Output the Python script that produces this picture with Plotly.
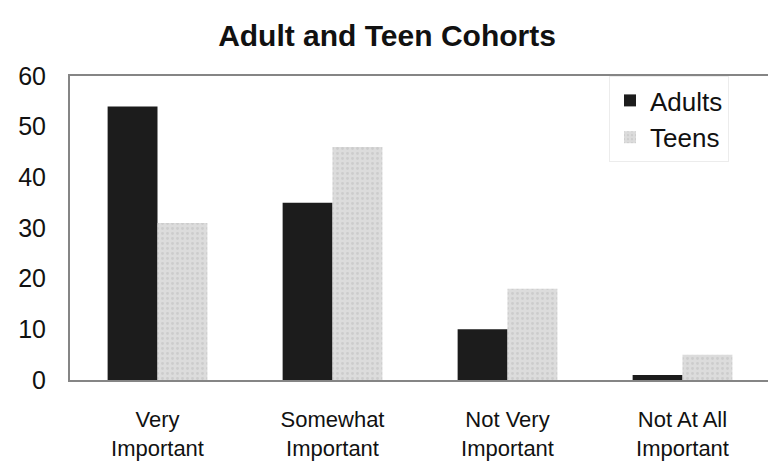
import plotly.graph_objects as go

categories = ["Very<br>Important", "Somewhat<br>Important", "Not Very<br>Important", "Not At All<br>Important"]
adults = [54, 35, 10, 1]
teens = [31, 46, 18, 5]
y_ticks = [0, 10, 20, 30, 40, 50, 60]

fig = go.Figure()
fig.add_trace(go.Bar(x=categories, y=adults, name="Adults",
                     marker=dict(color="#1c1c1c", line=dict(width=0))))
fig.add_trace(go.Bar(x=categories, y=teens, name="Teens",
                     marker=dict(color="#d8d8d8", line=dict(width=0),
                                 pattern=dict(shape=".", fgcolor="#bcbcbc", bgcolor="#dcdcdc", size=5, solidity=0.25))))

fig.update_layout(
    width=768, height=465,
    margin=dict(l=62, r=6, t=68, b=93, autoexpand=False),
    paper_bgcolor="white", plot_bgcolor="white",
    barmode="group", bargap=0.43, bargroupgap=0,
    font=dict(family="Liberation Sans, Arial, sans-serif", color="#111111", size=22),
    title=dict(text="<b>Adult and Teen Cohorts</b>", x=0.4935, xanchor="center", y=0.94, yanchor="middle",
               font=dict(size=30, family="Liberation Sans, Arial, sans-serif", color="#111111")),
    legend=dict(x=0.77, y=1.0, xanchor="left", yanchor="top",
                bgcolor="white", bordercolor="#ececec", borderwidth=1,
                font=dict(size=26), itemwidth=30),
    showlegend=True,
)
fig.update_xaxes(showline=True, linecolor="#858585", linewidth=2, mirror=True,
                 ticks="", tickfont=dict(size=22), showgrid=False, ticklabelstandoff=19)
fig.update_yaxes(range=[0, 60], tickvals=y_ticks, showline=True, linecolor="#858585", linewidth=2,
                 mirror=True, ticks="", showgrid=False, zeroline=False, tickfont=dict(size=25),
                 ticklabelstandoff=17)

fig.write_html("out.html")
